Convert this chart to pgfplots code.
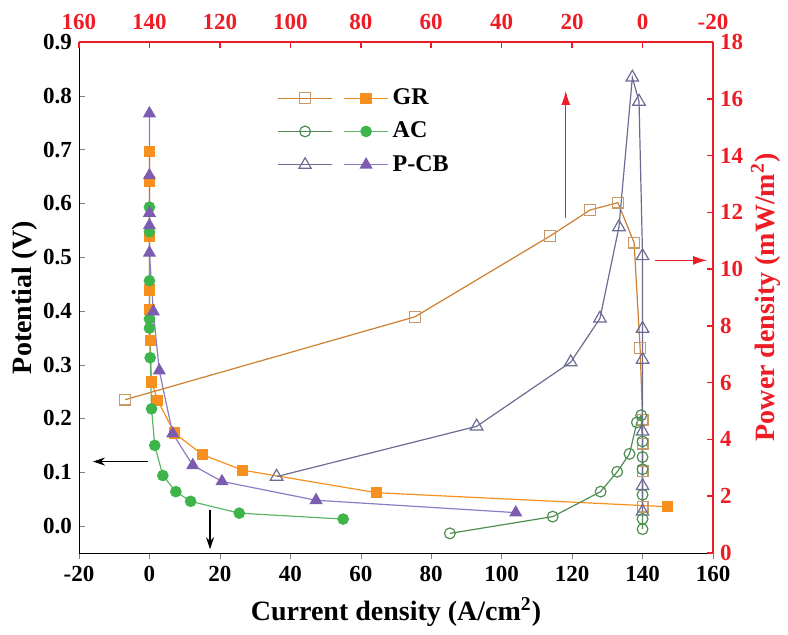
\documentclass[border=0pt]{standalone}
\usepackage{pgfplots}
\pgfplotsset{compat=1.18}
\usepackage{fontspec}
\setmainfont{Liberation Serif}
\usetikzlibrary{arrows.meta}

\definecolor{cGR}{HTML}{F7901E}
\definecolor{cGRo}{HTML}{CC8030}
\definecolor{cGRm}{HTML}{C49A6C}
\definecolor{cAC}{HTML}{3DB54A}
\definecolor{cACl}{HTML}{5DB865}
\definecolor{cACo}{HTML}{4E8E50}
\definecolor{cPCB}{HTML}{7B5CB0}
\definecolor{cPCBl}{HTML}{8C7CC4}
\definecolor{cPCBo}{HTML}{6C6C92}
\definecolor{axred}{HTML}{EE1C25}

\pgfplotsset{
  common/.style={
    scale only axis, width=317pt, height=255.5pt,
    xmin=-20, xmax=160, xtick={-20,0,...,160},
    /pgf/number format/assume math mode=true,
    ticklabel style={font=\fontsize{11.5}{13}\selectfont\bfseries},
    label style={font=\fontsize{14}{16}\selectfont\bfseries},
    major tick length=3pt, minor tick num=0,
  },
}

\begin{document}
\begin{tikzpicture}
\begin{axis}[common,
  axis x line*=bottom, axis y line*=left,
  ymin=-0.05, ymax=0.9, ytick={0,0.1,...,0.9},
  yticklabel style={/pgf/number format/.cd, fixed, fixed zerofill, precision=1},
  xtick align=outside, ytick align=inside,
  xlabel={Current density (A/cm$^{\mathbf{2}}$)},
  ylabel={Potential (V)},
  xlabel style={yshift=-1pt},
  ylabel style={yshift=-4pt},
  legend style={at={(rel axis cs:0.303,0.925)}, anchor=north west, draw=none, fill=none,
    font=\fontsize{12}{14}\selectfont\bfseries, row sep=3.2pt},
  legend cell align=left,
]
\addplot[cGR, line width=0.6pt, mark=square*, mark size=2.5pt, mark options={fill=cGR, draw=cGR},
  legend image code/.code={
    \draw[cGRo, line width=0.6pt, mark=square, mark size=2.7pt, mark options={fill=white, draw=cGRm},
      mark repeat=2, mark phase=2] plot coordinates {(0pt,0pt) (13.5pt,0pt) (27pt,0pt)};
    \draw[cGR, line width=0.6pt, mark=square*, mark size=2.5pt, mark options={fill=cGR, draw=cGR},
      mark repeat=2, mark phase=2] plot coordinates {(33pt,0pt) (44pt,0pt) (55pt,0pt)};
  }] coordinates {
  (0,0.696) (0,0.641) (0,0.538) (0,0.439) (0,0.402) (0.2,0.345) (0.6,0.268)
  (2.4,0.233) (7.1,0.173) (15,0.133) (26.4,0.104) (64.5,0.062) (147,0.036)
};
\addlegendentry{GR}
\addplot[cACl, line width=0.6pt, mark=*, mark size=2.6pt, mark options={fill=cAC, draw=cAC},
  legend image code/.code={
    \draw[cACo, line width=0.6pt, mark=o, mark size=2.7pt, mark options={fill=white, draw=cACo},
      mark repeat=2, mark phase=2] plot coordinates {(0pt,0pt) (13.5pt,0pt) (27pt,0pt)};
    \draw[cACl, line width=0.6pt, mark=*, mark size=2.6pt, mark options={fill=cAC, draw=cAC},
      mark repeat=2, mark phase=2] plot coordinates {(33pt,0pt) (44pt,0pt) (55pt,0pt)};
  }] coordinates {
  (0,0.593) (0,0.547) (0,0.456) (0,0.385) (0,0.368) (0.2,0.313) (0.6,0.218)
  (1.5,0.150) (3.8,0.094) (7.5,0.064) (11.7,0.046) (25.5,0.024) (55,0.013)
};
\addlegendentry{AC}
\addplot[cPCBl, line width=0.6pt, mark=triangle*, mark size=3.2pt, mark options={fill=cPCB, draw=cPCB},
  legend image code/.code={
    \draw[cPCBo, line width=0.6pt, mark=triangle, mark size=3.5pt, mark options={fill=white, draw=cPCBo},
      mark repeat=2, mark phase=2] plot coordinates {(0pt,0pt) (13.5pt,0pt) (27pt,0pt)};
    \draw[cPCBl, line width=0.6pt, mark=triangle*, mark size=3.2pt, mark options={fill=cPCB, draw=cPCB},
      mark repeat=2, mark phase=2] plot coordinates {(33pt,0pt) (44pt,0pt) (55pt,0pt)};
  }] coordinates {
  (0,0.767) (0,0.652) (0,0.582) (0,0.559) (0,0.508) (1.1,0.399) (2.8,0.289)
  (6.6,0.172) (12.3,0.113) (20.6,0.083) (47.3,0.048) (104,0.025)
};
\addlegendentry{P-CB}
% arrows
\draw[black, line width=0.6pt, -{Stealth[length=6pt,width=4pt]}] (axis cs:-0.4,0.12) -- (axis cs:-16,0.12);
\draw[black, line width=0.6pt, -{Stealth[length=6pt,width=4pt]}] (axis cs:17.2,0.03) -- (axis cs:17.2,-0.043);
\draw[axred, line width=0.6pt, -{Latex[length=7pt,width=4.5pt]}] (axis cs:118.2,0.572) -- (axis cs:118.2,0.809);
\draw[axred, line width=0.6pt, -{Latex[length=7pt,width=4.5pt]}] (axis cs:143.6,0.494) -- (axis cs:158.3,0.494);
\coordinate (bl) at (rel axis cs:0,0);
\coordinate (tr) at (rel axis cs:1,1);
\end{axis}

\begin{axis}[common,
  x dir=reverse,
  axis x line*=top, axis y line*=right,
  ymin=0, ymax=18, ytick={0,2,...,18},
  tick align=inside,
  axis line style={axred, line width=0.8pt},
  every tick/.style={axred, line width=0.8pt},
  ticklabel style={text=axred},
  xticklabel style={yshift=2.5pt},
  ylabel={Power density (mW/m$^{\mathbf{2}}$)},
  ylabel style={text=axred, yshift=3pt},
]
\addplot[cGRo, line width=0.6pt, mark=square, mark size=2.7pt, mark options={fill=white, draw=cGRm}] coordinates {
  (146.9,5.40) (64.6,8.32) (26.3,11.16) (14.9,12.08) (7.0,12.34) (2.4,10.93)
  (0.7,7.23) (0,4.70) (0,3.85) (0,2.87) (0,1.63)
};
\addplot[cACo, line width=0.6pt, mark=o, mark size=2.7pt, mark options={fill=white, draw=cACo}] coordinates {
  (54.7,0.69) (25.5,1.28) (11.9,2.16) (7.2,2.86) (3.7,3.49) (1.6,4.60) (0.4,4.85)
  (0,3.93) (0,3.38) (0,2.95) (0,2.05) (0,1.20) (0,0.84)
};
\addplot[cPCBo, line width=0.6pt, mark=triangle, mark size=3.6pt, mark options={fill=white, draw=cPCBo}] coordinates {
  (103.9,2.69) (47.1,4.46) (20.4,6.72) (12.1,8.26) (6.7,11.48) (2.9,16.75) (1.0,15.90)
  (0,10.46) (0,7.90) (0,6.81) (0,4.28) (0,2.36) (0,1.46)
};
\end{axis}
\pgfresetboundingbox
\path ([shift={(-39.5pt,-41pt)}]bl) rectangle ([shift={(37.5pt,21pt)}]tr);
\end{tikzpicture}
\end{document}
